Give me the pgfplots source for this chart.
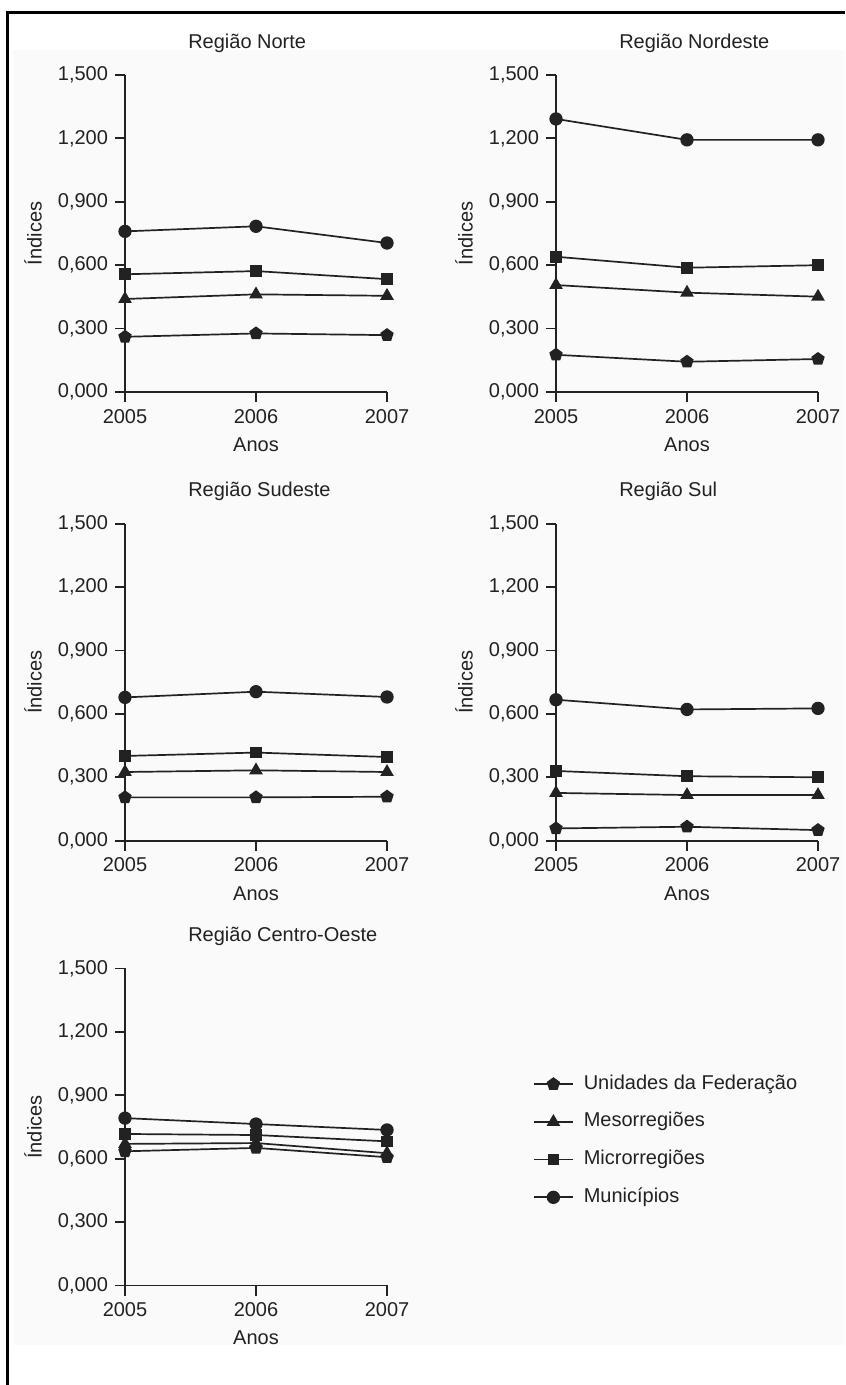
\documentclass[border=0pt]{standalone}
\usepackage{fontspec}
\setmainfont{Liberation Sans}
\usepackage{pgfplots}
\pgfplotsset{compat=1.18}
\definecolor{ink}{HTML}{222222}
\definecolor{bg}{HTML}{FAFAFA}
\newcommand{\fs}{\fontsize{10}{12}\selectfont}
\pgfplotsset{
  panel/.style={
    scale only axis, width=131pt, height=158.5pt,
    xmin=2005, xmax=2007, ymin=0, ymax=1.5,
    axis x line*=bottom, axis y line*=left,
    axis line style={ink, line width=0.9pt},
    xtick={2005,2006,2007}, xticklabels={2005,2006,2007},
    ytick={0,0.3,0.6,0.9,1.2,1.5},
    yticklabels={{0,000},{0,300},{0,600},{0,900},{1,200},{1,500}},
    tick align=outside, major tick length=5pt,
    tick style={ink, line width=0.9pt},
    tick label style={font=\fs, text=ink},
    /pgf/number format/assume math mode=true,
    xlabel={Anos}, ylabel={Índices},
    label style={font=\fs, text=ink},
    xlabel style={at={([yshift=-26.3pt]axis description cs:0.5,0)}, anchor=center},
    ylabel style={at={([xshift=-46pt]axis description cs:0,0.5)}, anchor=center},
    title style={at={([yshift=10pt]axis description cs:0.24,1)}, anchor=west, font=\fs, text=ink, inner sep=0pt},
    clip=false,
  },
  uf/.style={ink, line width=0.85pt, mark=pentagon*, mark size=3.0pt, mark options={solid, fill=ink}},
  meso/.style={ink, line width=0.85pt, mark=triangle*, mark size=3.1pt, mark options={solid, fill=ink}},
  micro/.style={ink, line width=0.85pt, mark=square*, mark size=2.5pt, mark options={solid, fill=ink}},
  muni/.style={ink, line width=0.85pt, mark=*, mark size=2.9pt, mark options={solid, fill=ink}},
}
\begin{document}
\begin{tikzpicture}
\useasboundingbox (0pt,0pt) rectangle (422.5pt,692.5pt);
\fill[bg] (6.5pt,20pt) rectangle (422.5pt,667.5pt);
\draw[black, line width=1.5pt] (3.75pt,0pt) -- (3.75pt,686pt) -- (422.5pt,686pt);

% Norte
\begin{axis}[panel, at={(62.5pt,496.5pt)}, anchor=south west, title={Região Norte}]
\addplot[uf] coordinates {(2005,0.261) (2006,0.277) (2007,0.269)};
\addplot[meso] coordinates {(2005,0.440) (2006,0.462) (2007,0.455)};
\addplot[micro] coordinates {(2005,0.557) (2006,0.572) (2007,0.534)};
\addplot[muni] coordinates {(2005,0.760) (2006,0.784) (2007,0.705)};
\end{axis}

% Nordeste
\begin{axis}[panel, at={(278pt,496.5pt)}, anchor=south west, title={Região Nordeste}]
\addplot[uf] coordinates {(2005,0.176) (2006,0.143) (2007,0.156)};
\addplot[meso] coordinates {(2005,0.506) (2006,0.470) (2007,0.451)};
\addplot[micro] coordinates {(2005,0.640) (2006,0.588) (2007,0.600)};
\addplot[muni] coordinates {(2005,1.292) (2006,1.193) (2007,1.193)};
\end{axis}

% Sudeste
\begin{axis}[panel, at={(62.5pt,272.15pt)}, anchor=south west, title={Região Sudeste}]
\addplot[uf] coordinates {(2005,0.205) (2006,0.205) (2007,0.208)};
\addplot[meso] coordinates {(2005,0.325) (2006,0.333) (2007,0.325)};
\addplot[micro] coordinates {(2005,0.401) (2006,0.417) (2007,0.396)};
\addplot[muni] coordinates {(2005,0.678) (2006,0.705) (2007,0.680)};
\end{axis}

% Sul
\begin{axis}[panel, at={(278pt,272.15pt)}, anchor=south west, title={Região Sul}]
\addplot[uf] coordinates {(2005,0.058) (2006,0.066) (2007,0.050)};
\addplot[meso] coordinates {(2005,0.226) (2006,0.216) (2007,0.216)};
\addplot[micro] coordinates {(2005,0.330) (2006,0.305) (2007,0.300)};
\addplot[muni] coordinates {(2005,0.667) (2006,0.621) (2007,0.626)};
\end{axis}

% Centro-Oeste
\begin{axis}[panel, at={(62.5pt,49.75pt)}, anchor=south west, title={Região Centro-Oeste},
  legend style={at={(1.556,0.4565)}, anchor=west, draw=none, fill=none, inner sep=0pt,
    row sep=8.85pt, column sep=5pt, font=\fs, text=ink,
    nodes={inner sep=0pt, text height=7.5pt, text depth=2.5pt}},
  legend cell align=left,
  legend image code/.code={\draw[mark repeat=2,mark phase=2,#1] plot coordinates {(0pt,0pt) (9.75pt,0pt) (19.5pt,0pt)};}]
\addplot[uf] coordinates {(2005,0.635) (2006,0.651) (2007,0.607)};
\addlegendentry{Unidades da Federação}
\addplot[meso] coordinates {(2005,0.670) (2006,0.674) (2007,0.626)};
\addlegendentry{Mesorregiões}
\addplot[micro] coordinates {(2005,0.717) (2006,0.712) (2007,0.682)};
\addlegendentry{Microrregiões}
\addplot[muni] coordinates {(2005,0.792) (2006,0.764) (2007,0.736)};
\addlegendentry{Municípios}
\end{axis}
\end{tikzpicture}
\end{document}
